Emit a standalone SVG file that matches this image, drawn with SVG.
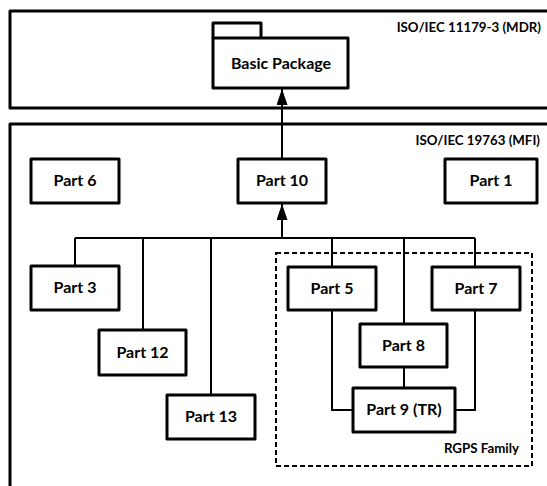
<svg xmlns="http://www.w3.org/2000/svg" width="547" height="486" viewBox="0 0 547 486">
  <defs>
    <marker id="arrow" viewBox="0 0 16 11" refX="16" refY="5.5" markerWidth="16" markerHeight="11" markerUnits="userSpaceOnUse" orient="auto">
      <path d="M0,0 L16,5.5 L0,11 Z" fill="#000"/>
    </marker>
  </defs>
  <style>
    .frame { fill: none; stroke: #000; stroke-width: 3; stroke-linejoin: round; }
    .node rect, .pkg path { fill: #fff; stroke: #000; stroke-width: 3; stroke-linejoin: round; }
    .group { fill: none; stroke: #000; stroke-width: 2; stroke-dasharray: 5 3; }
    .wire { fill: none; stroke: #000; stroke-width: 2; }
    .label { font-family: Lato, "Liberation Sans", sans-serif; font-weight: bold; font-size: 16px; text-anchor: middle; fill: #000; }
    .title { font-family: Lato, "Liberation Sans", sans-serif; font-weight: bold; font-size: 13.3px; text-anchor: end; fill: #000; }
  </style>

  <rect width="547" height="486" fill="#fff"/>

  <!-- standard frames -->
  <g id="mdr">
    <rect class="frame" x="10" y="11" width="560" height="97"/>
    <text class="title" x="541" y="32">ISO/IEC 11179-3 (MDR)</text>
  </g>
  <g id="mfi">
    <rect class="frame" x="10" y="124" width="560" height="400"/>
    <text class="title" x="540" y="145">ISO/IEC 19763 (MFI)</text>
  </g>
  <g id="rgps">
    <rect class="group" x="276" y="253" width="256" height="213"/>
    <text class="title" x="519" y="453">RGPS Family</text>
  </g>

  <!-- connectors -->
  <g id="connectors">
    <line class="wire" x1="282" y1="159" x2="282" y2="89" marker-end="url(#arrow)"/>
    <line class="wire" x1="282" y1="238" x2="282" y2="204" marker-end="url(#arrow)"/>
    <path class="wire" d="M75,238 H475"/>
    <path class="wire" d="M75,238 V266"/>
    <path class="wire" d="M143,238 V330"/>
    <path class="wire" d="M211,238 V395"/>
    <path class="wire" d="M332,238 V267"/>
    <path class="wire" d="M404,238 V324"/>
    <path class="wire" d="M475,238 V267"/>
    <path class="wire" d="M332,310 V410 H353"/>
    <path class="wire" d="M475,310 V410 H455"/>
    <path class="wire" d="M404,367 V388"/>
  </g>

  <!-- nodes -->
  <g id="basic-package" class="pkg">
    <path d="M213,38 V23 H261 V38"/>
    <path d="M213,38 H348 V88 H213 Z"/>
    <text class="label" x="281" y="69">Basic Package</text>
  </g>
  <g id="part6" class="node">
    <rect x="31" y="159" width="88" height="44"/>
    <text class="label" x="75" y="186">Part 6</text>
  </g>
  <g id="part10" class="node">
    <rect x="238" y="159" width="88" height="44"/>
    <text class="label" x="282" y="186">Part 10</text>
  </g>
  <g id="part1" class="node">
    <rect x="445" y="159" width="92" height="44"/>
    <text class="label" x="491" y="186">Part 1</text>
  </g>
  <g id="part3" class="node">
    <rect x="31" y="266" width="88" height="44"/>
    <text class="label" x="75" y="293">Part 3</text>
  </g>
  <g id="part12" class="node">
    <rect x="99" y="330" width="87" height="45"/>
    <text class="label" x="142.5" y="358">Part 12</text>
  </g>
  <g id="part13" class="node">
    <rect x="167" y="395" width="88" height="44"/>
    <text class="label" x="211" y="422">Part 13</text>
  </g>
  <g id="part5" class="node">
    <rect x="288" y="267" width="88" height="43"/>
    <text class="label" x="332" y="294">Part 5</text>
  </g>
  <g id="part7" class="node">
    <rect x="432" y="267" width="88" height="43"/>
    <text class="label" x="476" y="294">Part 7</text>
  </g>
  <g id="part8" class="node">
    <rect x="360" y="324" width="87" height="43"/>
    <text class="label" x="403.5" y="351">Part 8</text>
  </g>
  <g id="part9" class="node">
    <rect x="353" y="388" width="102" height="44"/>
    <text class="label" x="404" y="415">Part 9 (TR)</text>
  </g>
</svg>
